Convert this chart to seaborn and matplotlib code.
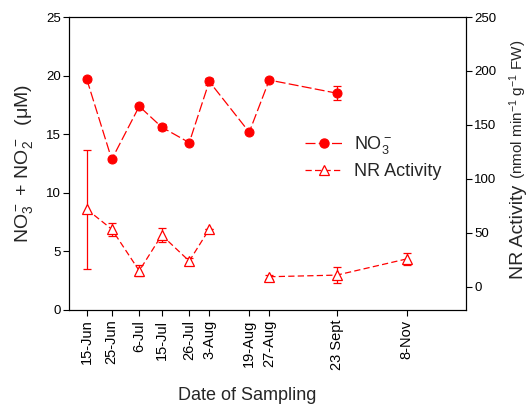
import numpy as np
import pandas as pd
import matplotlib
matplotlib.use("Agg")
import matplotlib.pyplot as plt
import seaborn as sns
from matplotlib.lines import Line2D

# ---- data ----
dates = ['15-Jun', '25-Jun', '6-Jul', '15-Jul', '26-Jul', '3-Aug',
         '19-Aug', '27-Aug', '23 Sept', '8-Nov']
x_pos = [0, 10, 21, 30, 41, 49, 65, 73, 100, 128]
no3 = [19.7, 12.85, 17.38, 15.6, 14.28, 19.5, 15.17, 19.62, 18.5, np.nan]
no3_err = [0.15, 0.15, 0.2, 0.25, 0.15, 0.3, 0.15, 0.2, 0.6, np.nan]
nr = [72, 53.5, 15, 48, 24, 53.5, np.nan, 9.5, 11, 26]
nr_err = [55, 6, 5, 6.5, 2.5, 0, np.nan, 2, 7.5, 5.5]
nr_segment = [0, 0, 0, 0, 0, 0, 1, 1, 1, 1]

sns.set_style("ticks")
plt.rcParams['font.family'] = ['Liberation Sans', 'DejaVu Sans']
plt.rcParams['mathtext.fontset'] = 'custom'
plt.rcParams['mathtext.rm'] = 'Liberation Sans'
plt.rcParams['mathtext.it'] = 'Liberation Sans'
plt.rcParams['mathtext.bf'] = 'Liberation Sans'

red = '#ff0000'
fig = plt.figure(figsize=(5.30, 4.08), dpi=100)
ax = fig.add_axes([69/530, (408-310)/408, (466-69)/530, (310-17)/408])
ax2 = ax.twinx()

df = pd.DataFrame({'x': x_pos, 'no3': no3, 'no3_err': no3_err,
                   'nr': nr, 'nr_err': nr_err, 'seg': nr_segment})

lw = 0.9
no3_dash = (0, (8, 2.6))
nr_dash = (0, (5, 2.6))

# NO3 on left axis
ax.errorbar(df['x'], df['no3'], yerr=df['no3_err'], fmt='none',
            ecolor=red, elinewidth=0.9, capsize=3, capthick=0.9, zorder=2)
sns.lineplot(data=df.dropna(subset=['no3']), x='x', y='no3', ax=ax,
             color=red, marker='o', markersize=6.5, markeredgecolor=red,
             markerfacecolor=red, linewidth=lw, linestyle=no3_dash,
             estimator=None, zorder=3)

# NR on right axis
ax2.errorbar(df['x'], df['nr'], yerr=df['nr_err'], fmt='none',
             ecolor=red, elinewidth=0.9, capsize=3, capthick=0.9, zorder=2)
sns.lineplot(data=df.dropna(subset=['nr']), x='x', y='nr', units='seg',
             ax=ax2, color=red, marker='^', markersize=7,
             markeredgecolor=red, markerfacecolor='white',
             markeredgewidth=0.9, linewidth=lw, linestyle=nr_dash,
             estimator=None, zorder=3)

ax.set_xlim(-7.1, 151.7)
ax.set_ylim(0, 25)
ax2.set_ylim(-21.3, 250)
ax.set_yticks([0, 5, 10, 15, 20, 25])
ax2.set_yticks([0, 50, 100, 150, 200, 250])
ax.set_xticks(x_pos)
ax.set_xticklabels(dates, rotation=90)

for a in (ax, ax2):
    a.tick_params(direction='out', length=4, width=0.8, labelsize=9.5,
                  colors='black', pad=2)
    for s in a.spines.values():
        s.set_linewidth(0.8)
        s.set_color('black')
ax.tick_params(axis='x', pad=3, labelsize=10.5)

ax.set_xlabel('Date of Sampling', fontsize=13)
ax.xaxis.set_label_coords(0.448, -0.262)
ax.set_ylabel('NO$_3^-$ + NO$_2^-$  (μM)', fontsize=14)
ax.yaxis.set_label_coords(-0.085, 0.5)
ax2.set_ylabel('')

fig.text(523/530, (408-279)/408, 'NR Activity', rotation=90,
         rotation_mode='anchor', ha='left', va='baseline', fontsize=14)
fig.text(523/530, (408-40)/408, '(nmol min$^{-1}$ g$^{-1}$ FW)', rotation=90,
         rotation_mode='anchor', ha='right', va='baseline', fontsize=11)

h1 = Line2D([], [], color=red, marker='o', markersize=6.5, linewidth=lw,
            linestyle=no3_dash, markerfacecolor=red, markeredgecolor=red)
h2 = Line2D([], [], color=red, marker='^', markersize=7, linewidth=lw,
            linestyle=nr_dash, markerfacecolor='white',
            markeredgecolor=red, markeredgewidth=0.9)
leg = ax2.legend([h1, h2], ['NO$_3^-$', 'NR Activity'], loc='upper left',
                 bbox_to_anchor=(0.594, 0.60), frameon=False, fontsize=13,
                 handlelength=2.1, handletextpad=0.65, labelspacing=0.4,
                 borderpad=0, borderaxespad=0)

fig.savefig('out.png', dpi=100)
